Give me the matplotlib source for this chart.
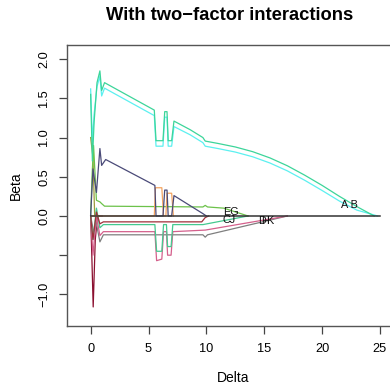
import matplotlib
matplotlib.use("Agg")
import matplotlib.pyplot as plt

plt.rcParams['font.family'] = ['Liberation Sans', 'DejaVu Sans']

# Coefficient paths (Delta, Beta)
delta_a = [0, 0.15, 0.3, 0.55, 0.8, 0.95, 1.2, 5.5, 5.65, 6.25, 6.4, 6.6, 6.7, 7.0, 7.2,
           8.6, 9.7, 9.9, 11.0, 12.5, 14.0, 15.5, 17.0, 18.5, 20.0, 21.5, 23.0, 24.5]
beta_a = [1.55, 0.7, 1.2, 1.7, 1.85, 1.6, 1.70, 1.35, 0.96, 0.96, 1.33, 1.33, 0.96, 0.96, 1.21,
          1.10, 1.0, 0.955, 0.925, 0.88, 0.82, 0.74, 0.64, 0.52, 0.39, 0.25, 0.12, 0.0]

delta_b = [0, 0.15, 0.3, 0.55, 0.8, 0.95, 1.2, 5.5, 5.65, 6.25, 6.4, 6.6, 6.7, 7.0, 7.2,
           8.6, 9.7, 9.9, 11.0, 12.5, 14.0, 15.5, 17.0, 18.5, 20.0, 21.5, 23.0, 24.8]
beta_b = [1.62, 0.95, 1.3, 1.65, 1.78, 1.53, 1.63, 1.28, 0.89, 0.89, 1.26, 1.26, 0.89, 0.89, 1.14,
          1.035, 0.935, 0.89, 0.86, 0.815, 0.755, 0.675, 0.575, 0.455, 0.325, 0.19, 0.075, 0.0]

delta_c = [0, 0.2, 0.5, 0.8, 0.95, 1.3, 5.55, 5.65, 6.25, 6.4, 6.6, 6.7, 7.0, 7.2, 9.7, 10.0]
beta_c = [0.0, 0.6, 0.3, 0.86, 0.645, 0.72, 0.39, 0.0, 0.0, 0.33, 0.33, 0.0, 0.0, 0.26, 0.03, 0.0]

delta_d = [0, 5.5, 5.6, 6.15, 6.3, 6.5, 6.6, 7.0, 7.15]
beta_d = [0.0, 0.0, 0.36, 0.36, 0.0, 0.0, 0.29, 0.29, 0.0]

delta_e = [0, 0.12, 0.25, 0.5, 0.8, 0.95, 1.2, 9.7, 9.9, 10.1, 11.5, 13.6]
beta_e = [0.0, 0.5, 0.9, 0.2, 0.18, 0.158, 0.125, 0.115, 0.135, 0.115, 0.10, 0.0]

delta_f = [0, 0.2, 0.5, 0.8, 1.1, 9.6, 9.9, 10.2]
beta_f = [0.0, -0.3, 0.05, -0.1, -0.075, -0.075, -0.02, 0.0]

delta_g = [0, 0.2, 0.5, 0.8, 1.1, 5.55, 5.7, 6.15, 6.3, 6.55, 6.65, 6.95, 7.1, 9.7, 13.6]
beta_g = [0.0, -0.3, 0.1, -0.15, -0.11, -0.11, -0.45, -0.45, -0.11, -0.11, -0.39, -0.39, -0.11,
          -0.11, 0.0]

delta_h = [0, 0.2, 0.5, 0.8, 1.1, 5.55, 5.7, 6.15, 6.3, 6.55, 6.65, 6.95, 7.1, 9.9, 17.0]
beta_h = [0.0, -0.5, 0.0, -0.25, -0.2, -0.2, -0.57, -0.55, -0.2, -0.2, -0.5, -0.5, -0.2,
          -0.18, 0.0]

delta_i = [0, 0.25, 0.5, 0.8, 1.1, 9.7, 9.9, 10.1, 17.0]
beta_i = [0.0, -0.2, -0.1, -0.33, -0.24, -0.24, -0.27, -0.24, 0.0]

delta_j = [0, 0.1, 0.22, 0.4, 0.6, 1.0]
beta_j = [0.0, -0.5, -1.16, -0.3, 0.0, 0.0]

delta_k = [0, 0.2, 0.35, 0.6]
beta_k = [1.0, 0.75, 0.0, 0.0]

delta_zero = [0, 25]
beta_zero = [0, 0]

labels = ["A B", "EG", "CJ", "D", "H", "K"]
label_delta = [22.4, 12.1, 12.0, 14.8, 15.1, 15.5]
label_beta = [0.14, 0.05, -0.055, -0.065, -0.065, -0.065]

xticks = [0, 5, 10, 15, 20, 25]
yticks = [-1.0, -0.5, 0.0, 0.5, 1.0, 1.5, 2.0]
ytick_labels = ["\u22121.0", "", "0.0", "0.5", "1.0", "1.5", "2.0"]

fig = plt.figure(figsize=(3.9, 3.87), dpi=100)
ax = fig.add_axes([0.171, 0.1576, 0.8546, 0.7269])

paths = [
    (delta_k, beta_k, "#9C9C3C"),
    (delta_j, beta_j, "#8B1030"),
    (delta_i, beta_i, "#7F7F7F"),
    (delta_h, beta_h, "#D4608C"),
    (delta_g, beta_g, "#45C98F"),
    (delta_f, beta_f, "#A0303A"),
    (delta_e, beta_e, "#6CC24A"),
    (delta_d, beta_d, "#F4A460"),
    (delta_c, beta_c, "#4A4A78"),
    (delta_b, beta_b, "#5CF0F0"),
    (delta_a, beta_a, "#3CD59A"),
]
for dx, by, col in paths:
    ax.plot(dx, by, color=col, lw=0.9)
ax.plot(delta_zero, beta_zero, color="#333333", lw=1.1)

for lab, lx, ly in zip(labels, label_delta, label_beta):
    ax.text(lx, ly, lab, fontsize=7.8, ha="center", va="center", color="#111111")

ax.set_xlim(-2.07, 26.73)
ax.set_ylim(-1.403, 2.184)
ax.set_xticks(xticks)
ax.set_xticklabels([str(t) for t in xticks])
ax.set_yticks(yticks)
ax.set_yticklabels(ytick_labels, rotation=90, va="center")
ax.tick_params(length=6, width=0.9, color="#444444", labelsize=9.2, pad=6)
for s in ax.spines.values():
    s.set_color("#555555")
    s.set_linewidth(1.0)

ax.set_xlabel("Delta", fontsize=10, labelpad=12)
ax.set_ylabel("Beta", fontsize=10, labelpad=11)
fig.text(0.588, 0.96, "With two\u2212factor interactions", fontsize=13.2, fontweight="bold",
         ha="center", va="center")

fig.savefig("out.png", dpi=100)
